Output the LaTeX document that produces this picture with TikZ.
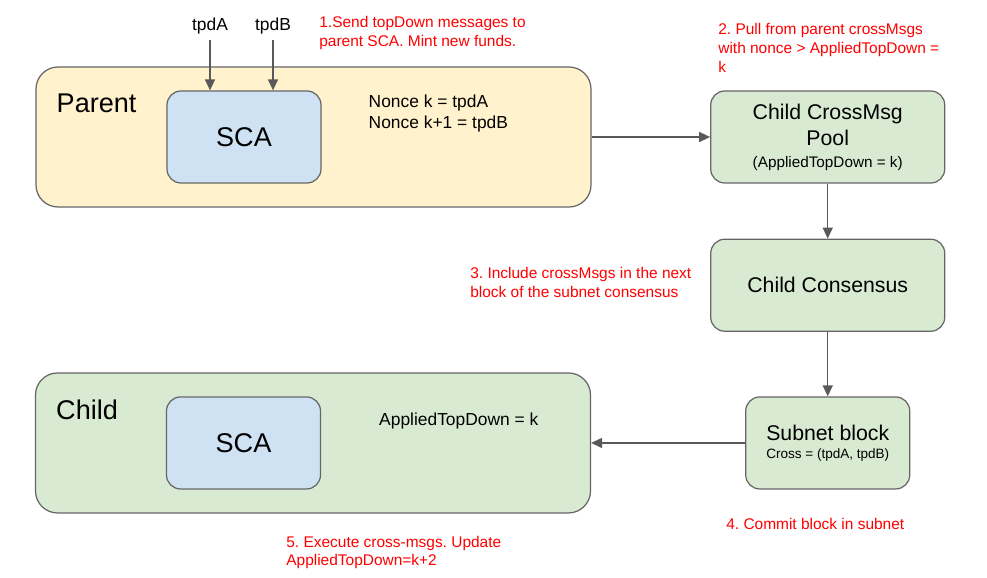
\documentclass[tikz,border=0pt]{standalone}
\usepackage{fontspec}
\setmainfont{Liberation Sans}
\usepackage{xcolor}
\usetikzlibrary{arrows.meta, positioning}

\definecolor{parentfill}{HTML}{FFF2CC}
\definecolor{childfill}{HTML}{D9EAD3}
\definecolor{scafill}{HTML}{CFE2F3}
\definecolor{edgegray}{HTML}{666666}
\definecolor{arrowgray}{HTML}{595959}

\frenchspacing

\begin{document}
\begin{tikzpicture}[
    font=\fontsize{9.9}{11.9}\selectfont,
    >={Triangle[length=2.2mm,width=2mm]},
    netbox/.style={
        rectangle,
        rounded corners=0.44cm,
        draw=edgegray,
        line width=0.7pt,
        minimum width=11.1cm,
        minimum height=2.8cm
    },
    sca/.style={
        rectangle,
        rounded corners=0.28cm,
        draw=edgegray,
        fill=scafill,
        line width=0.7pt,
        minimum width=3.08cm,
        minimum height=1.84cm,
        font=\fontsize{15.4}{18}\selectfont
    },
    process/.style={
        rectangle,
        rounded corners=0.28cm,
        draw=edgegray,
        fill=childfill,
        line width=0.7pt,
        align=center,
        minimum height=1.84cm,
        inner sep=2pt,
        font=\fontsize{12.1}{15.3}\selectfont
    },
    title/.style={anchor=west, inner sep=0pt, font=\fontsize{15.4}{18}\selectfont},
    note/.style={anchor=west, align=left, inner sep=0pt, text=red,
        font=\fontsize{8.8}{10.8}\selectfont},
    arrow/.style={->, draw=arrowgray, line width=0.85pt}
]
\useasboundingbox (0,0) rectangle (19.74,-11.56);

% Nodes
\node (parent) [netbox, fill=parentfill] at (6.27,-2.74) {};

\node (pool) [process, minimum width=4.68cm, right=2.37cm of parent]
{Child CrossMsg\\Pool\\[-3.2pt]
{\fontsize{8.7}{10.5}\selectfont (AppliedTopDown = k)}};

\node (cons) [process, minimum width=4.68cm, below=1.1cm of pool]
{Child Consensus};

\node (block) [process, minimum width=3.28cm, below=1.29cm of cons]
{Subnet block\\[-5pt]
{\fontsize{7.7}{9}\selectfont Cross = (tpdA, tpdB)}};

\node (child) [netbox, fill=childfill, left=3.08cm of block] {};

\node (sca1) [sca, right=2.62cm of parent.west] {SCA};
\node (sca2) [sca, right=2.62cm of child.west] {SCA};

\node (parentlbl) [title] at ([shift={(0.42,-0.74)}]parent.north west) {Parent};
\node (childlbl) [title] at ([shift={(0.42,-0.74)}]child.north west) {Child};

\node (nonce) [anchor=west, align=left, inner sep=0pt]
    at ([shift={(6.66,-0.95)}]parent.north west)
{Nonce k = tpdA\\Nonce k+1 = tpdB};

\node (applied) [anchor=west, inner sep=0pt]
    at ([shift={(6.88,-0.98)}]child.north west) {AppliedTopDown = k};

\node (tpda) at (4.2,-0.52) {tpdA};
\node (tpdb) at (5.46,-0.52) {tpdB};

% Notes
\node (n1) [note] at (6.38,-0.67)
{1.Send topDown messages to\\parent SCA. Mint new funds.};
\node (n2) [note] at (14.36,-0.96)
{2. Pull from parent crossMsgs\\with nonce > AppliedTopDown =\\k};
\node (n3) [note] at (9.4,-5.65)
{3. Include crossMsgs in the next\\block of the subnet consensus};
\node (n4) [note] at (14.52,-10.48) {4. Commit block in subnet};
\node (n5) [note] at (5.72,-11.05)
{5. Execute cross-msgs. Update\\AppliedTopDown=k+2};

% Arrows
\draw [arrow] (tpda) -- (tpda.south |- sca1.north);
\draw [arrow] (tpdb) -- (tpdb.south |- sca1.north);

\draw [arrow] (parent) -- (pool);
\draw [arrow] (pool) -- (cons);
\draw [arrow] (cons) -- (block);
\draw [arrow] (block) -- (child);

\end{tikzpicture}
\end{document}
